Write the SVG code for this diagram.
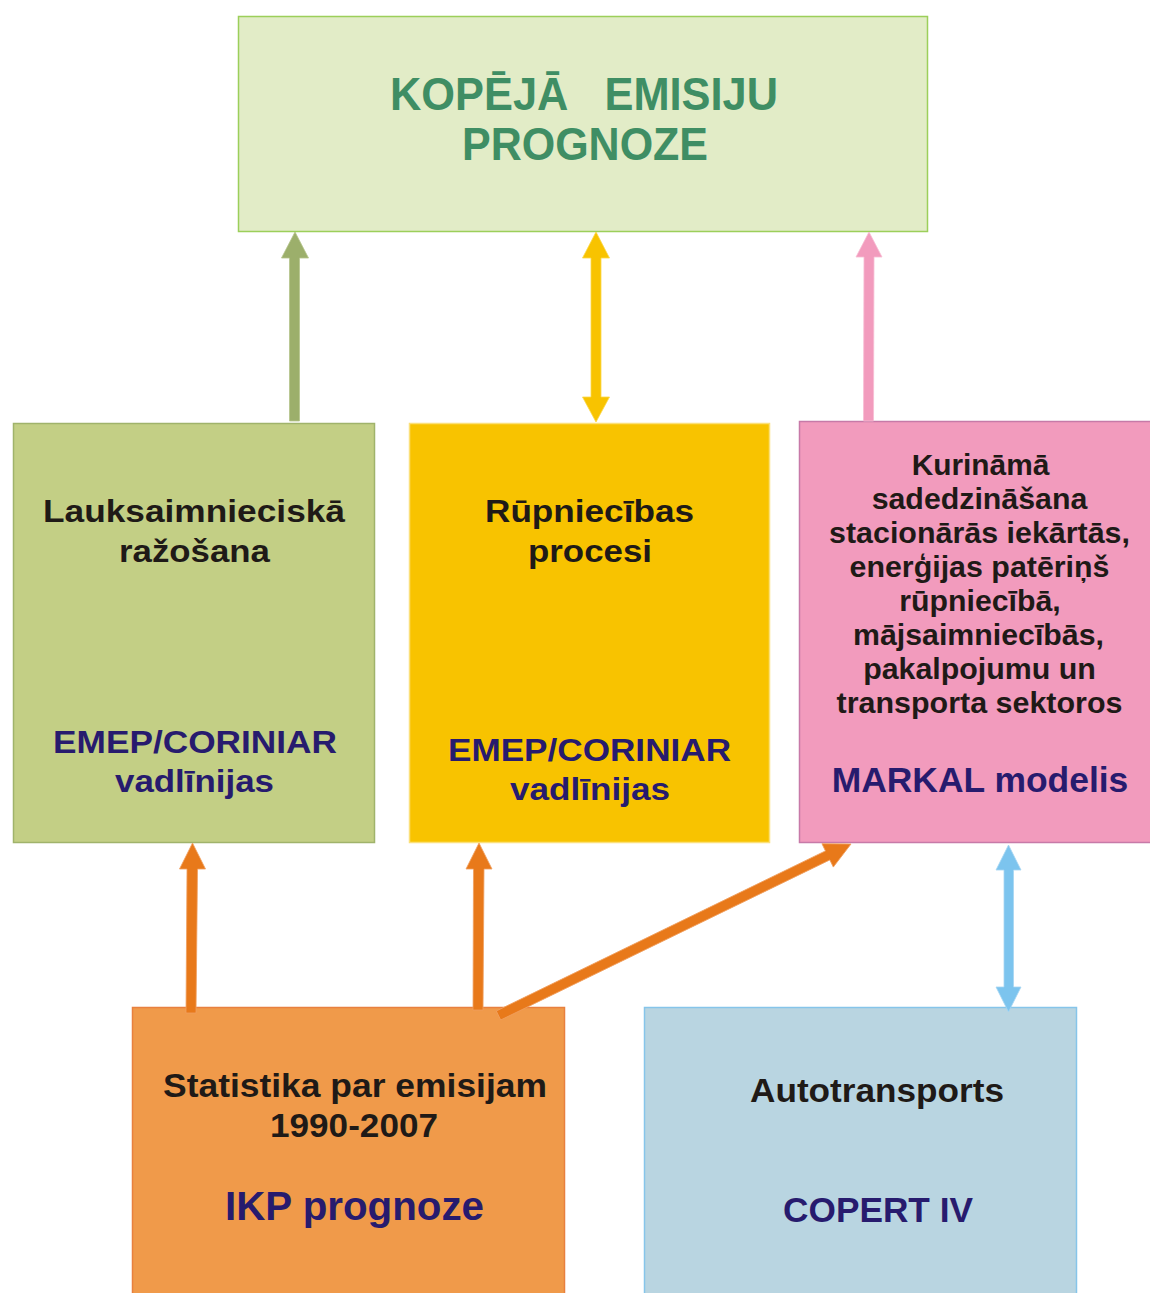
<svg xmlns="http://www.w3.org/2000/svg" width="1150" height="1293" viewBox="0 0 1150 1293">
<style>
  text { font-family: "Liberation Sans", Arial, sans-serif; font-weight: bold; text-anchor: middle; }
  .title { font-size: 46px; fill: #3f8e64; white-space: pre; }
  .blk { font-size: 31px; fill: #1f1a17; }
  .blk2 { font-size: 30px; fill: #1f1a17; }
  .blk3 { font-size: 33px; fill: #1f1a17; }
  .nav { font-size: 32px; fill: #271b6e; }
  .nav2 { font-size: 35px; fill: #271b6e; }
  .nav3 { font-size: 40px; fill: #271b6e; }
</style>
<rect width="1150" height="1293" fill="#ffffff"/>

<g id="node-total">
  <rect x="238.5" y="16.5" width="689" height="215" fill="#e2ecc7" stroke="#9ccf5a" stroke-width="1.5"/>
  <text class="title" x="584" y="110" textLength="388" lengthAdjust="spacingAndGlyphs">KOPĒJĀ   EMISIJU</text>
  <text class="title" x="585" y="160" textLength="246" lengthAdjust="spacingAndGlyphs">PROGNOZE</text>
</g>

<g id="node-agri">
  <rect x="13.5" y="423.5" width="361" height="419" fill="#c3cf85" stroke="#a0b36b" stroke-width="1.5"/>
  <text class="blk" x="194" y="522" textLength="302" lengthAdjust="spacingAndGlyphs">Lauksaimnieciskā</text>
  <text class="blk" x="194.5" y="562" textLength="151" lengthAdjust="spacingAndGlyphs">ražošana</text>
  <text class="nav" x="195" y="753" textLength="284" lengthAdjust="spacingAndGlyphs">EMEP/CORINIAR</text>
  <text class="nav" x="194.5" y="792" textLength="159" lengthAdjust="spacingAndGlyphs">vadlīnijas</text>
</g>

<g id="node-industry">
  <rect x="409.5" y="423.5" width="360" height="419" fill="#f8c300" stroke="#fbe07a" stroke-width="1.5"/>
  <text class="blk" x="589.5" y="522" textLength="209" lengthAdjust="spacingAndGlyphs">Rūpniecības</text>
  <text class="blk" x="590" y="562" textLength="124" lengthAdjust="spacingAndGlyphs">procesi</text>
  <text class="nav" x="589.5" y="761" textLength="283" lengthAdjust="spacingAndGlyphs">EMEP/CORINIAR</text>
  <text class="nav" x="590" y="800" textLength="160" lengthAdjust="spacingAndGlyphs">vadlīnijas</text>
</g>

<g id="node-fuel">
  <rect x="799.5" y="421.5" width="360" height="421" fill="#f29bbd" stroke="#c77aa8" stroke-width="1.5"/>
  <text class="blk2" x="980.5" y="475" textLength="137.7" lengthAdjust="spacingAndGlyphs">Kurināmā</text>
  <text class="blk2" x="979.5" y="509" textLength="215.7" lengthAdjust="spacingAndGlyphs">sadedzināšana</text>
  <text class="blk2" x="979.5" y="543" textLength="301" lengthAdjust="spacingAndGlyphs">stacionārās iekārtās,</text>
  <text class="blk2" x="979.5" y="577" textLength="260" lengthAdjust="spacingAndGlyphs">enerģijas patēriņš</text>
  <text class="blk2" x="980" y="611" textLength="161.3" lengthAdjust="spacingAndGlyphs">rūpniecībā,</text>
  <text class="blk2" x="978.5" y="645" textLength="251" lengthAdjust="spacingAndGlyphs">mājsaimniecībās,</text>
  <text class="blk2" x="979.5" y="679" textLength="232.7" lengthAdjust="spacingAndGlyphs">pakalpojumu un</text>
  <text class="blk2" x="979.5" y="713" textLength="286" lengthAdjust="spacingAndGlyphs">transporta sektoros</text>
  <text class="nav2" x="980" y="792" textLength="296.7" lengthAdjust="spacingAndGlyphs">MARKAL modelis</text>
</g>

<g id="node-stat">
  <rect x="132.5" y="1007.5" width="432" height="300" fill="#f09a4a" stroke="#e8803f" stroke-width="1.5"/>
  <text class="blk3" x="355" y="1097" textLength="384" lengthAdjust="spacingAndGlyphs">Statistika par emisijam</text>
  <text class="blk3" x="354" y="1137" textLength="168" lengthAdjust="spacingAndGlyphs">1990-2007</text>
  <text class="nav3" x="354.5" y="1220" textLength="259" lengthAdjust="spacingAndGlyphs">IKP prognoze</text>
</g>

<g id="node-auto">
  <rect x="644.5" y="1007.5" width="432" height="300" fill="#b9d5e1" stroke="#86c5ea" stroke-width="1.5"/>
  <text class="blk3" x="877" y="1102" textLength="254" lengthAdjust="spacingAndGlyphs">Autotransports</text>
  <text class="nav2" x="878" y="1222" textLength="190" lengthAdjust="spacingAndGlyphs">COPERT IV</text>
</g>

<g id="connectors">
  <!-- green: agri -> total -->
  <polygon points="289.5,421 289.5,258 281.5,258 295,232 308.5,258 299.5,258 299.5,421" fill="#9caf6b" stroke="#b5c48c" stroke-width="0.8"/>
  <!-- yellow double: industry <-> total -->
  <polygon points="596,232 609.5,258 601,258 601,397 609.5,397 596,422 582.5,397 591,397 591,258 582.5,258" fill="#f8c300" stroke="#fbd84a" stroke-width="0.8"/>
  <!-- pink: fuel -> total -->
  <polygon points="863.5,421 864,257 856,257 869,232 882,257 874,257 873.5,421" fill="#f29bbd" stroke="#f7bcd3" stroke-width="0.8"/>
  <!-- orange: stat -> agri -->
  <polygon points="186,1013 187,869 179.5,869 192.5,843 205.5,869 197.5,869 196,1013" fill="#e8791a" stroke="#f0a060" stroke-width="0.8"/>
  <!-- orange: stat -> industry -->
  <polygon points="473,1010 473.5,869 466,869 479,843 492,869 484,869 483,1010" fill="#e8791a" stroke="#f0a060" stroke-width="0.8"/>
  <!-- orange diagonal: stat -> fuel -->
  <g transform="translate(498.5,1015.5) rotate(-25.94)">
    <polygon points="0,-5 366,-5 366,-13 392,0 366,13 366,5 0,5" fill="#e8791a" stroke="#f0a060" stroke-width="0.8"/>
  </g>
  <!-- blue double: fuel <-> auto -->
  <polygon points="1008.5,845 1021,870 1013.5,870 1013.5,987 1021,987 1008.5,1012 996,987 1004,987 1004,870 996,870" fill="#7cc4ee" stroke="#a6d6f2" stroke-width="0.8"/>
</g>
</svg>
